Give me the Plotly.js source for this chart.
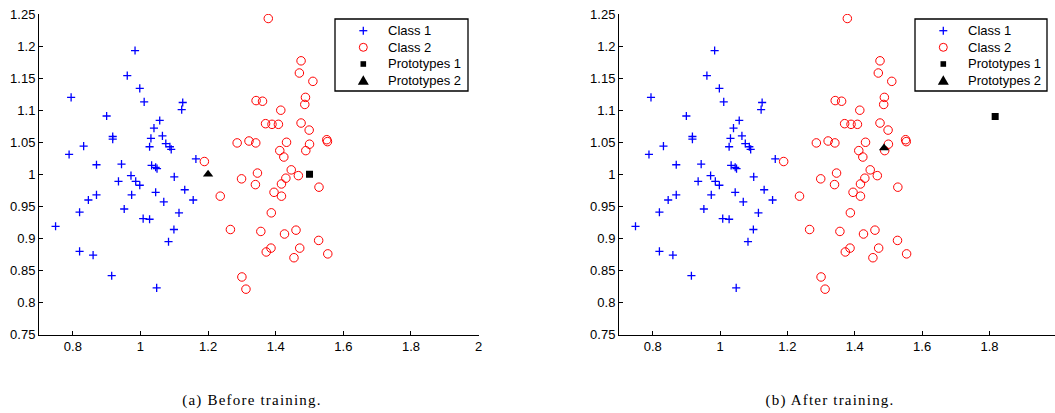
<!DOCTYPE html>
<html>
<head>
<meta charset="utf-8">
<script src="https://cdn.plot.ly/plotly-3.0.1.min.js"></script>
<style>
html,body{margin:0;padding:0;overflow:hidden;background:#fff;}
#chart{width:1058px;height:413px;}
</style>
</head>
<body>
<div id="chart"></div>
<script>
// Class 1 samples (blue +)
const class1X = [0.984,0.961,0.998,1.011,0.795,0.900,1.125,1.122,1.057,1.040,0.918,0.918,1.031,1.065,1.075,1.087,1.091,1.027,0.832,0.789,0.870,0.944,1.033,1.045,1.049,1.164,1.100,0.972,0.935,0.986,0.998,0.870,0.846,0.974,1.045,1.131,1.069,1.156,0.952,0.820,1.114,1.008,1.027,0.749,1.099,1.083,0.820,0.860,0.915,1.048];
const class1Y = [1.193,1.154,1.134,1.113,1.120,1.091,1.112,1.101,1.084,1.072,1.059,1.055,1.056,1.060,1.048,1.043,1.039,1.043,1.044,1.031,1.015,1.016,1.014,1.011,1.009,1.024,0.996,0.998,0.989,0.989,0.983,0.968,0.960,0.968,0.972,0.976,0.957,0.960,0.946,0.941,0.940,0.931,0.930,0.919,0.914,0.895,0.880,0.874,0.842,0.823];
// Class 2 samples (red o)
const class2X = [1.378,1.475,1.470,1.510,1.342,1.361,1.488,1.486,1.415,1.370,1.389,1.408,1.475,1.499,1.551,1.553,1.286,1.321,1.341,1.432,1.500,1.489,1.412,1.424,1.189,1.446,1.467,1.346,1.299,1.430,1.340,1.417,1.528,1.395,1.417,1.236,1.387,1.266,1.356,1.426,1.460,1.527,1.386,1.372,1.471,1.454,1.554,1.300,1.312];
const class2Y = [1.243,1.177,1.158,1.145,1.115,1.114,1.120,1.109,1.100,1.079,1.078,1.078,1.080,1.069,1.054,1.051,1.049,1.052,1.049,1.050,1.047,1.037,1.037,1.027,1.020,1.007,0.998,1.002,0.993,0.994,0.984,0.985,0.980,0.972,0.966,0.966,0.940,0.914,0.911,0.907,0.913,0.897,0.885,0.879,0.885,0.870,0.876,0.840,0.821];
// Prototypes before / after training
const proto1BeforeX = [1.5],   proto1BeforeY = [1.0];
const proto2BeforeX = [1.2],   proto2BeforeY = [1.0];
const proto1AfterX  = [1.817], proto1AfterY  = [1.090];
const proto2AfterX  = [1.487], proto2AfterY  = [1.041];
// Ticks and labels
const xTickVals = [0.8,1,1.2,1.4,1.6,1.8,2];
const xTickText = ['0.8','1','1.2','1.4','1.6','1.8','2'];
const yTickVals = [0.75,0.8,0.85,0.9,0.95,1,1.05,1.1,1.15,1.2,1.25];
const yTickText = ['0.75','0.8','0.85','0.9','0.95','1','1.05','1.1','1.15','1.2','1.25'];
const seriesNames = ['Class 1','Class 2','Prototypes 1','Prototypes 2'];
const captions = ['(a) Before training.','(b) After training.'];

const W = 1058, H = 413;
const font = {family:'Liberation Sans, Arial, sans-serif', size:13, color:'#000'};
const serif = {family:'Liberation Serif, Times New Roman, serif', size:15, color:'#000'};
const BLUE = '#0000ff', RED = '#ff0000', BLACK = '#000000';
const PX = p => p / W, PY = p => (H - p) / H;

function makeTraces(xa, ya, p1x, p1y, p2x, p2y){
  return [
    {x:class1X,y:class1Y,type:'scatter',mode:'markers',name:seriesNames[0],xaxis:xa,yaxis:ya,showlegend:false,
     marker:{symbol:'cross-thin-open',size:5.8,color:BLUE,line:{color:BLUE,width:1.3}}},
    {x:class2X,y:class2Y,type:'scatter',mode:'markers',name:seriesNames[1],xaxis:xa,yaxis:ya,showlegend:false,
     marker:{symbol:'circle-open',size:8.5,color:RED,line:{color:RED,width:1}}},
    {x:p1x,y:p1y,type:'scatter',mode:'markers',name:seriesNames[2],xaxis:xa,yaxis:ya,showlegend:false,
     marker:{symbol:'square',size:7,color:BLACK}},
    {x:p2x,y:p2y,type:'scatter',mode:'markers',name:seriesNames[3],xaxis:xa,yaxis:ya,showlegend:false,
     marker:{symbol:'triangle-up',size:9,color:BLACK}}
  ];
}

const data = [].concat(
  makeTraces('x','y',proto1BeforeX,proto1BeforeY,proto2BeforeX,proto2BeforeY),
  makeTraces('x2','y2',proto1AfterX,proto1AfterY,proto2AfterX,proto2AfterY)
);

const yDom = [PY(334.7), PY(14)];
function xAxis(dom, anchor){
  return {domain:dom, anchor:anchor, range:[0.7,2], tickvals:xTickVals, ticktext:xTickText,
    ticks:'inside', ticklen:4, tickwidth:1, tickcolor:'#000', showline:true, linecolor:'#000', linewidth:1,
    mirror:false, showgrid:false, zeroline:false, tickfont:font, fixedrange:true};
}
function yAxis(anchor){
  return {domain:yDom, anchor:anchor, range:[0.75,1.25], tickvals:yTickVals, ticktext:yTickText,
    ticks:'inside', ticklen:4, tickwidth:1, tickcolor:'#000', showline:true, linecolor:'#000', linewidth:1,
    mirror:false, showgrid:false, zeroline:false, tickfont:font, fixedrange:true};
}

// Hand-drawn legend boxes (to match the compact original spacing)
const shapes = [], annotations = [];
const rowY = [30.7, 47.3, 64, 80.3];
function addLegend(left, right){
  shapes.push({type:'rect', xref:'paper', yref:'paper', x0:PX(left), x1:PX(right), y0:PY(91), y1:PY(19),
    line:{color:BLACK, width:1.3}, fillcolor:'#fff', layer:'above'});
  const sx = left + 28.3;
  shapes.push({type:'line', xref:'paper', yref:'paper', x0:PX(sx-4), x1:PX(sx+4), y0:PY(rowY[0]), y1:PY(rowY[0]), line:{color:BLUE,width:1.3}, layer:'above'});
  shapes.push({type:'line', xref:'paper', yref:'paper', x0:PX(sx), x1:PX(sx), y0:PY(rowY[0]-4), y1:PY(rowY[0]+4), line:{color:BLUE,width:1.3}, layer:'above'});
  shapes.push({type:'circle', xref:'paper', yref:'paper', x0:PX(sx-4), x1:PX(sx+4), y0:PY(rowY[1]+4), y1:PY(rowY[1]-4), line:{color:RED,width:1}, layer:'above'});
  shapes.push({type:'rect', xref:'paper', yref:'paper', x0:PX(sx-2.8), x1:PX(sx+2.8), y0:PY(rowY[2]+2.8), y1:PY(rowY[2]-2.8), line:{width:0}, fillcolor:BLACK, layer:'above'});
  const ty = rowY[3];
  shapes.push({type:'path', xref:'paper', yref:'paper',
    path:'M'+PX(sx-5.5)+','+PY(ty+4.5)+' L'+PX(sx+5.5)+','+PY(ty+4.5)+' L'+PX(sx)+','+PY(ty-5)+' Z',
    line:{width:0}, fillcolor:BLACK, layer:'above'});
  seriesNames.forEach((n,i)=>{
    annotations.push({text:n, x:PX(left+51), y:PY(rowY[i]), xref:'paper', yref:'paper', showarrow:false,
      xanchor:'left', yanchor:'middle', font:font});
  });
}
addLegend(335, 468);
addLegend(915, 1047);

const capCenters = [252, 830];
captions.forEach((c,i)=>{
  annotations.push({text:c, x:PX(capCenters[i]), y:PY(400), xref:'paper', yref:'paper', showarrow:false,
    xanchor:'center', yanchor:'middle', font:serif});
});

const layout = {
  width:W, height:H, margin:{l:0,r:0,t:0,b:0}, paper_bgcolor:'#fff', plot_bgcolor:'#fff',
  font:font, showlegend:false,
  xaxis:xAxis([PX(39), PX(478.6)],'y'), yaxis:yAxis('x'),
  xaxis2:xAxis([PX(619), PX(1056.8)],'y2'), yaxis2:yAxis('x2'),
  shapes:shapes, annotations:annotations
};

Plotly.newPlot('chart', data, layout, {displayModeBar:false, staticPlot:true}).then(gd=>{
  // widen the serif captions' letter spacing like the original typesetting, then re-centre
  gd.querySelectorAll('.annotation-text').forEach(t=>{
    const idx = captions.indexOf(t.textContent);
    if (idx >= 0) {
      t.style.letterSpacing = '1.2px';
      const cur = t.getBoundingClientRect();
      const shift = capCenters[idx] - (cur.left + cur.width/2);
      const tx = parseFloat(t.getAttribute('x')) || 0;
      t.setAttribute('x', tx + shift);
    }
  });
});
</script>
</body>
</html>
